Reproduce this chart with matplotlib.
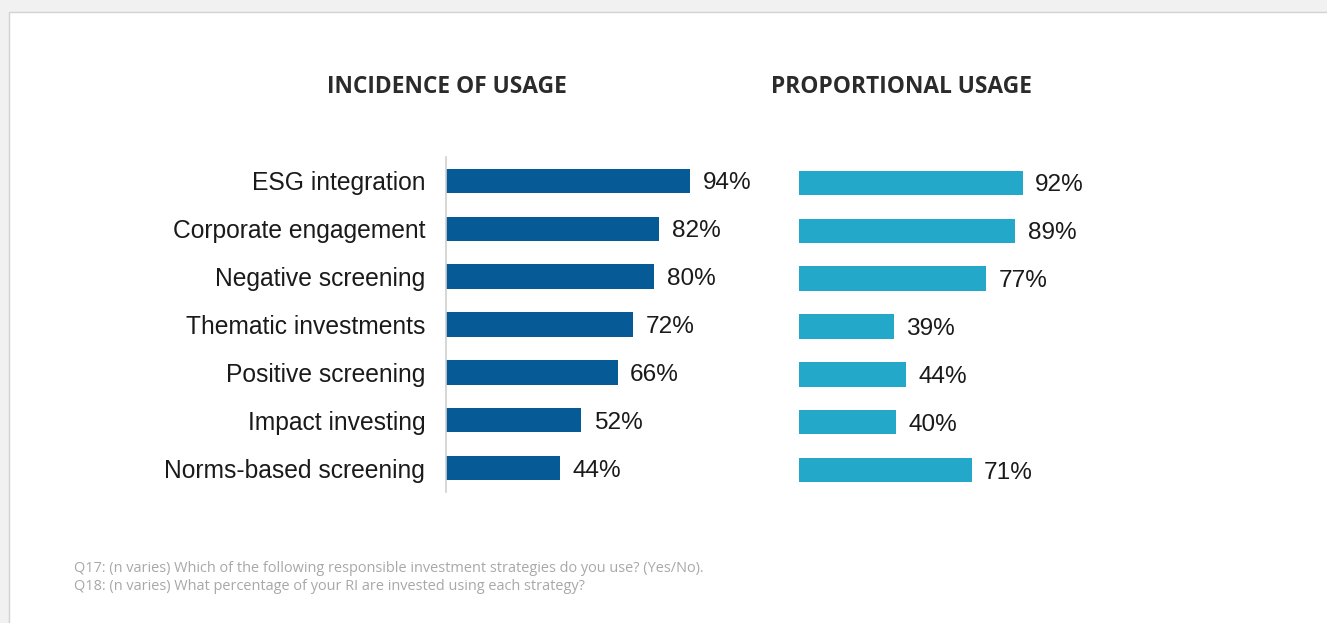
"""Responsible investment strategies: incidence vs proportional usage"""

import matplotlib.pyplot as plt
from matplotlib.patches import Rectangle

strategies = [
    "ESG integration",
    "Corporate engagement",
    "Negative screening",
    "Thematic investments",
    "Positive screening",
    "Impact investing",
    "Norms-based screening",
]
incidence = [94, 82, 80, 72, 66, 52, 44]
proportional = [92, 89, 77, 39, 44, 40, 71]

W, H = 1327, 623
DPI = 100
DARK_BLUE = "#065a96"
LIGHT_BLUE = "#23a8c9"

plt.rcParams["font.family"] = ["Liberation Sans", "DejaVu Sans"]

fig = plt.figure(figsize=(W / DPI, H / DPI), dpi=DPI)
fig.patch.set_facecolor("#f1f1f1")

# white card with a thin border, offset from the top-left
card = Rectangle((9 / W, -0.01), 1, 1 - 12 / H + 0.01, transform=fig.transFigure,
                 facecolor="white", edgecolor="#d2d2d2", linewidth=1.0, zorder=-10)
fig.patches.append(card)


def px_axes(x0, y0, x1, y1):
    # axes from pixel box (top-left origin)
    return fig.add_axes([x0 / W, 1 - y1 / H, (x1 - x0) / W, (y1 - y0) / H])


def draw_bars(ax, values, color):
    pos = range(len(values))
    ax.barh(pos, values, height=0.51, color=color)
    for y, v in zip(pos, values):
        ax.annotate(f"{v}%", (v, y), xytext=(9.0, 0), textcoords="offset points",
                    va="center_baseline", ha="left", fontsize=17.6, color="#1a1a1a")
    ax.set_xlim(0, 100)
    ax.set_ylim(len(values) - 0.5, -0.5)
    ax.set_xticks([])
    for side in ("top", "right", "bottom", "left"):
        ax.spines[side].set_visible(False)
    ax.patch.set_alpha(0)


ax1 = px_axes(446, 157, 706, 492)
draw_bars(ax1, incidence, DARK_BLUE)
ax1.spines["left"].set_visible(True)
ax1.spines["left"].set_color("#d0d0d0")
ax1.spines["left"].set_linewidth(1.2)
ax1.set_yticks(range(len(strategies)))
ax1.set_yticklabels(strategies, fontsize=17.7, color="#1a1a1a")
ax1.tick_params(axis="y", length=0, pad=15)

ax2 = px_axes(799, 159, 1042, 494)
draw_bars(ax2, proportional, LIGHT_BLUE)
ax2.set_yticks([])

title_kw = dict(fontsize=16.4, fontweight="bold", color="#2b2b2b",
                ha="center", va="center", family=["Open Sans", "DejaVu Sans"])
fig.text(447 / W, 1 - 87 / H, "INCIDENCE OF USAGE", **title_kw)
fig.text(902 / W, 1 - 87 / H, "PROPORTIONAL USAGE", **title_kw)

note_kw = dict(fontsize=10.45, color="#a8a8a8", ha="left", va="center",
               family=["Open Sans", "DejaVu Sans"])
fig.text(74 / W, 1 - 569 / H,
         "Q17: (n varies) Which of the following responsible investment strategies do you use? (Yes/No).",
         **note_kw)
fig.text(74 / W, 1 - 586 / H,
         "Q18: (n varies) What percentage of your RI are invested using each strategy?",
         **note_kw)

fig.savefig("out.png", dpi=DPI, facecolor=fig.get_facecolor())
plt.close(fig)
